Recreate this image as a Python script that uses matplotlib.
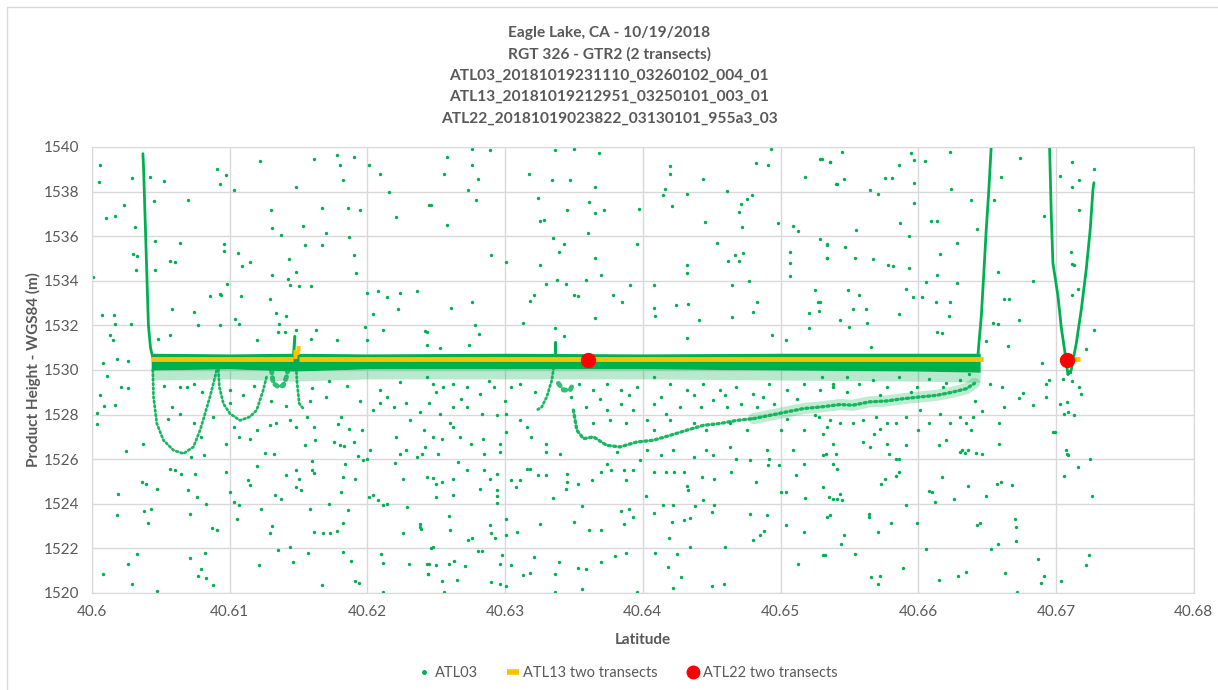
import numpy as np
import matplotlib.pyplot as plt
from matplotlib.lines import Line2D
from matplotlib.patches import Rectangle

plt.rcParams['font.family'] = ['Lato', 'DejaVu Sans']

GREEN = '#00B050'
YELLOW = '#FFC000'
RED = '#FF0000'
GRAY = '#595959'
GRID = '#D9D9D9'

title_lines = ["Eagle Lake, CA - 10/19/2018",
               "RGT 326 - GTR2 (2 transects)",
               "ATL03_20181019231110_03260102_004_01",
               "ATL13_20181019212951_03250101_003_01",
               "ATL22_20181019023822_03130101_955a3_03"]

x_ticks = [40.6, 40.61, 40.62, 40.63, 40.64, 40.65, 40.66, 40.67, 40.68]
y_ticks = [1520, 1522, 1524, 1526, 1528, 1530, 1532, 1534, 1536, 1538, 1540]

# ---- ATL03 dense features (lat, height) ----
left_cliff = [(40.6037, 1539.7), (40.60375, 1539.0), (40.6038, 1538.0), (40.6039, 1536.0),
              (40.6040, 1534.0), (40.6041, 1532.0), (40.60425, 1531.0), (40.6044, 1530.6)]
right_cliff = [(40.66433, 1530.6), (40.66441, 1531.2), (40.66458, 1532.4), (40.66475, 1534.2),
               (40.66494, 1536.3), (40.66513, 1538.1), (40.6653, 1540.0)]
v_left = [(40.66954, 1540.0), (40.66966, 1537.0), (40.66978, 1534.8), (40.67015, 1533.3),
          (40.67039, 1531.9), (40.6707, 1530.6), (40.67087, 1529.8)]
v_right = [(40.67087, 1529.8), (40.67111, 1530.0), (40.67148, 1531.2), (40.67184, 1532.7),
           (40.6722, 1534.5), (40.67249, 1536.3), (40.67269, 1538.1), (40.67276, 1538.4)]

surface_lat = [40.6043, 40.6100, 40.6147, 40.6200, 40.6300, 40.6400, 40.6500, 40.6600, 40.6645]
surface_top = [1530.75, 1530.72, 1530.75, 1530.72, 1530.75, 1530.72, 1530.75, 1530.75, 1530.75]
surface_bot = [1530.0, 1530.05, 1529.95, 1530.05, 1530.05, 1530.05, 1530.0, 1529.95, 1529.9]

basin1 = [(40.60442, 1530.0), (40.60447, 1528.8), (40.60471, 1527.6), (40.60519, 1526.85),
          (40.60592, 1526.4), (40.60664, 1526.25), (40.60737, 1526.55), (40.60785, 1527.3),
          (40.60821, 1528.04), (40.60857, 1528.8), (40.60882, 1529.4), (40.60906, 1530.0)]
basin2 = [(40.60918, 1530.0), (40.60925, 1529.24), (40.60954, 1528.5), (40.61002, 1528.04),
          (40.61075, 1527.74), (40.61147, 1527.9), (40.61196, 1528.2), (40.61244, 1529.1),
          (40.61268, 1529.7)]
blob_west = [(40.61304, 1530.0), (40.61316, 1529.4), (40.61353, 1529.25), (40.61389, 1529.3),
             (40.61413, 1529.7), (40.61432, 1530.3)]
spike_west = [(40.61461, 1530.3), (40.61473, 1531.5)]
drop_west = [(40.61481, 1530.3), (40.6149, 1529.4), (40.61505, 1528.5), (40.61534, 1528.27)]
spike_mid = [(40.63363, 1530.4), (40.63363, 1531.26)]
diag_mid = [(40.63358, 1530.3), (40.63339, 1529.54), (40.63303, 1528.8), (40.63266, 1528.34),
            (40.6323, 1528.2)]
blob_mid = [(40.63387, 1529.4), (40.63424, 1529.1), (40.63472, 1529.1), (40.63496, 1529.4)]
trend_west = [(40.63496, 1528.2), (40.63521, 1527.3), (40.63569, 1526.92), (40.63642, 1527.0),
              (40.63738, 1526.62), (40.63835, 1526.55), (40.63956, 1526.77), (40.64077, 1526.85),
              (40.64199, 1527.07), (40.6432, 1527.3), (40.64441, 1527.52), (40.64562, 1527.6),
              (40.64683, 1527.74), (40.64804, 1527.82)]
trend_east = [(40.64804, 1527.82), (40.64925, 1527.97), (40.65046, 1528.12),
              (40.65167, 1528.27), (40.65288, 1528.34), (40.65433, 1528.45), (40.65525, 1528.42),
              (40.65646, 1528.57), (40.65768, 1528.61), (40.65889, 1528.71), (40.6601, 1528.79),
              (40.66131, 1528.86), (40.66252, 1529.01), (40.66349, 1529.16), (40.66409, 1529.4)]

# ---- ATL03 scattered returns (lat, height) ----
noise_west = [
    (40.6006, 1539.18), (40.6005, 1538.43), (40.6010, 1536.83), (40.6017, 1536.9), (40.6023, 1537.38),
    (40.6029, 1538.6), (40.6031, 1536.4), (40.6030, 1535.2), (40.6033, 1535.1), (40.6032, 1534.5),
    (40.6001, 1534.17), (40.6007, 1532.45), (40.6016, 1532.48), (40.6017, 1532.08), (40.6013, 1531.55),
    (40.6015, 1531.33), (40.6028, 1532.08), (40.6018, 1530.5), (40.6026, 1530.4), (40.6008, 1530.3),
    (40.6011, 1529.73), (40.6006, 1528.86), (40.6004, 1528.07), (40.6004, 1527.56), (40.6009, 1528.4),
    (40.6021, 1529.24), (40.6026, 1529.2), (40.6017, 1528.43), (40.6025, 1526.37), (40.6037, 1526.7),
    (40.6036, 1524.98), (40.6039, 1524.9), (40.6047, 1524.68), (40.6019, 1524.45), (40.6018, 1523.5),
    (40.6038, 1523.66), (40.6043, 1523.75), (40.6041, 1523.14), (40.6033, 1521.76), (40.6026, 1521.29),
    (40.6008, 1520.87), (40.6029, 1520.39), (40.6047, 1520.09), (40.6042, 1538.65), (40.6045, 1537.56),
    (40.6052, 1538.47), (40.6070, 1537.64), (40.6046, 1535.77), (40.6064, 1535.7), (40.6057, 1534.9),
    (40.6060, 1534.84), (40.6046, 1534.47), (40.6058, 1532.75), (40.6074, 1532.6), (40.6077, 1532.0),
    (40.6057, 1531.58), (40.6048, 1531.4), (40.6086, 1533.32), (40.6093, 1533.42), (40.6094, 1533.35),
    (40.6098, 1533.84), (40.6093, 1532.0), (40.6093, 1538.36), (40.6097, 1538.73), (40.6091, 1539.03),
    (40.6103, 1538.09), (40.6096, 1535.66), (40.6096, 1535.34), (40.6106, 1535.25), (40.6109, 1534.65),
    (40.6115, 1534.84), (40.6108, 1533.32), (40.6104, 1532.3), (40.6107, 1532.08), (40.6122, 1539.36),
    (40.6130, 1537.16), (40.6131, 1536.38), (40.6137, 1536.04), (40.6143, 1534.98), (40.6131, 1534.25),
    (40.6142, 1534.1), (40.6148, 1534.4), (40.6144, 1533.8), (40.6129, 1533.2), (40.6134, 1532.56),
    (40.6141, 1532.42), (40.6136, 1532.08), (40.6135, 1531.72), (40.6140, 1531.72), (40.6120, 1531.33),
    (40.6148, 1531.78), (40.6148, 1538.2), (40.6153, 1536.46), (40.6155, 1535.59), (40.6150, 1533.75),
    (40.6159, 1533.75), (40.6159, 1531.4), (40.6163, 1531.8), (40.6161, 1539.48), (40.6178, 1539.63),
    (40.6180, 1539.2), (40.6190, 1539.55), (40.6182, 1538.5), (40.6167, 1537.28), (40.6186, 1537.28),
    (40.6195, 1537.19), (40.6170, 1536.14), (40.6167, 1535.62), (40.6187, 1535.96), (40.6190, 1535.14),
    (40.6192, 1534.35), (40.6178, 1531.36), (40.6198, 1531.93), (40.6200, 1531.33), (40.6201, 1539.18),
    (40.6209, 1538.8), (40.6216, 1538.0), (40.6221, 1536.86), (40.6245, 1537.38), (40.6200, 1533.45),
    (40.6208, 1533.52), (40.6214, 1533.27), (40.6224, 1533.47), (40.6236, 1533.55), (40.6222, 1532.72),
    (40.6204, 1532.53), (40.6211, 1531.78), (40.6242, 1531.75),
    (40.6064, 1529.24), (40.6069, 1529.24), (40.6074, 1529.39), (40.6058, 1528.34), (40.6064, 1528.04),
    (40.6074, 1527.6), (40.6079, 1527.0), (40.6072, 1526.1), (40.6081, 1526.17), (40.6057, 1525.58),
    (40.6060, 1525.5), (40.6065, 1525.35), (40.6075, 1525.35), (40.6070, 1524.63), (40.6076, 1524.3),
    (40.6083, 1524.0), (40.6071, 1523.55), (40.6087, 1522.93), (40.6091, 1522.82), (40.6071, 1521.58),
    (40.6082, 1521.79), (40.6079, 1521.09), (40.6077, 1520.75), (40.6083, 1520.67), (40.6088, 1520.34),
    (40.6097, 1526.7), (40.6097, 1525.43), (40.6100, 1524.53), (40.6103, 1524.08), (40.6107, 1523.93),
    (40.6105, 1523.33), (40.6103, 1527.44), (40.6107, 1527.0), (40.6115, 1526.9), (40.6120, 1527.3),
    (40.6129, 1527.52), (40.6134, 1527.6), (40.6126, 1526.28), (40.6132, 1526.25), (40.6113, 1525.05),
    (40.6115, 1524.83), (40.6120, 1525.68), (40.6123, 1523.77), (40.6129, 1522.67), (40.6131, 1523.0),
    (40.6133, 1524.38), (40.6137, 1524.2), (40.6141, 1525.3), (40.6148, 1525.53), (40.6148, 1524.75),
    (40.6152, 1524.63), (40.6150, 1525.1), (40.6135, 1521.94), (40.6144, 1522.06), (40.6146, 1521.39),
    (40.6121, 1521.24), (40.6157, 1521.79), (40.6161, 1525.4), (40.6160, 1525.9), (40.6160, 1525.5),
    (40.6158, 1523.77), (40.6161, 1522.73), (40.6168, 1522.7), (40.6173, 1522.7), (40.6178, 1522.77),
    (40.6172, 1524.0), (40.6181, 1524.53), (40.6186, 1523.7), (40.6182, 1523.14), (40.6188, 1521.45),
    (40.6191, 1520.53), (40.6194, 1520.45), (40.6167, 1520.34), (40.6182, 1521.84), (40.6191, 1525.13),
    (40.6182, 1525.2), (40.6184, 1525.8), (40.6176, 1526.77), (40.6180, 1526.62), (40.6183, 1526.58),
    (40.6156, 1527.9), (40.6161, 1527.44), (40.6162, 1526.85), (40.6155, 1526.62), (40.6148, 1527.44),
    (40.6144, 1527.74), (40.6141, 1528.4), (40.6179, 1527.56), (40.6181, 1527.9), (40.6187, 1527.37),
    (40.6190, 1526.77), (40.6193, 1526.13), (40.6196, 1527.3), (40.6197, 1525.95), (40.6200, 1526.0),
    (40.6202, 1526.4), (40.6204, 1528.2), (40.6209, 1528.5), (40.6209, 1529.1), (40.6214, 1528.8),
    (40.6219, 1528.34), (40.6224, 1529.46), (40.6228, 1528.5), (40.6231, 1527.74), (40.6221, 1527.0),
    (40.6220, 1525.83), (40.6224, 1526.25), (40.6228, 1526.4), (40.6236, 1526.1), (40.6240, 1526.25),
    (40.6226, 1525.13), (40.6243, 1525.2), (40.6250, 1524.9), (40.6204, 1524.38), (40.6208, 1524.15),
    (40.6211, 1523.93), (40.6214, 1524.0), (40.6201, 1524.3), (40.6226, 1522.67), (40.6229, 1523.85),
    (40.6238, 1523.1), (40.6239, 1522.88), (40.6246, 1522.03), (40.6210, 1521.76), (40.6211, 1521.35),
    (40.6230, 1521.29), (40.6243, 1521.31), (40.6244, 1520.87), (40.6211, 1520.05),
    (40.6052, 1529.3), (40.6080, 1529.0), (40.6100, 1529.1), (40.6118, 1529.3), (40.6160, 1529.2),
    (40.6170, 1528.8), (40.6185, 1529.3), (40.6195, 1528.6), (40.6172, 1529.5), (40.6130, 1528.6),
    (40.6100, 1528.5), (40.6088, 1527.9), (40.6055, 1527.8), (40.6110, 1528.9), (40.6158, 1528.6)]

noise_mid = [
    (40.6258, 1539.55), (40.6276, 1539.93), (40.6289, 1539.85), (40.6256, 1538.8), (40.6276, 1539.18),
    (40.6280, 1538.58), (40.6246, 1537.38), (40.6273, 1538.06), (40.6279, 1537.6), (40.6258, 1536.5),
    (40.6290, 1535.14), (40.6301, 1534.84), (40.6261, 1532.79), (40.6276, 1533.07), (40.6278, 1532.03),
    (40.6281, 1531.63), (40.6243, 1531.72), (40.6274, 1531.13), (40.6243, 1531.1), (40.6253, 1531.0),
    (40.6336, 1539.85), (40.6350, 1539.93), (40.6368, 1539.75), (40.6317, 1538.8), (40.6334, 1538.5),
    (40.6347, 1538.5), (40.6365, 1538.2), (40.6324, 1537.71), (40.6345, 1537.19), (40.6361, 1537.53),
    (40.6365, 1537.04), (40.6372, 1537.16), (40.6325, 1536.66), (40.6328, 1536.74), (40.6360, 1536.15),
    (40.6335, 1535.93), (40.6343, 1535.66), (40.6339, 1535.29), (40.6325, 1534.69), (40.6365, 1535.02),
    (40.6370, 1534.27), (40.6330, 1533.87), (40.6338, 1534.05), (40.6344, 1533.87), (40.6359, 1534.02),
    (40.6321, 1533.38), (40.6318, 1533.1), (40.6350, 1533.38), (40.6353, 1533.3), (40.6313, 1532.12),
    (40.6365, 1532.33), (40.6378, 1533.38), (40.6385, 1533.07), (40.6391, 1533.8), (40.6397, 1537.2),
    (40.6396, 1535.64), (40.6336, 1531.87), (40.6343, 1531.52), (40.6420, 1539.13), (40.6420, 1538.8),
    (40.6416, 1538.13), (40.6415, 1537.86), (40.6421, 1537.34), (40.6432, 1537.9), (40.6444, 1538.58),
    (40.6461, 1538.02), (40.6482, 1539.28), (40.6491, 1539.18), (40.6493, 1539.9), (40.6479, 1537.84),
    (40.6476, 1537.65), (40.6471, 1537.43), (40.6470, 1537.1), (40.6445, 1536.65), (40.6472, 1536.4),
    (40.6498, 1536.6), (40.6454, 1535.7), (40.6432, 1534.69), (40.6432, 1534.36), (40.6467, 1535.17),
    (40.6473, 1535.26), (40.6462, 1534.87), (40.6470, 1534.9), (40.6477, 1533.99), (40.6465, 1533.81),
    (40.6408, 1533.8), (40.6483, 1533.06), (40.6408, 1532.79), (40.6424, 1532.9), (40.6433, 1532.97),
    (40.6409, 1532.42), (40.6441, 1532.22), (40.6465, 1532.37), (40.6480, 1532.6), (40.6432, 1531.43),
    (40.6494, 1531.58), (40.6504, 1531.36), (40.6509, 1536.46), (40.6513, 1536.22), (40.6518, 1538.65),
    (40.6529, 1539.48), (40.6536, 1539.33), (40.6541, 1538.35), (40.6529, 1535.88), (40.6534, 1535.62),
    (40.6507, 1535.29), (40.6534, 1535.0), (40.6507, 1534.8), (40.6507, 1534.22), (40.6525, 1533.57),
    (40.6527, 1533.05), (40.6529, 1533.05), (40.6521, 1532.57), (40.6528, 1532.65), (40.6521, 1531.9),
    (40.6243, 1529.69), (40.6248, 1529.39), (40.6255, 1529.24), (40.6262, 1529.39), (40.6272, 1529.24),
    (40.6282, 1528.94), (40.6292, 1529.24), (40.6304, 1529.24), (40.6311, 1529.39), (40.6238, 1528.12),
    (40.6245, 1528.5), (40.6253, 1528.04), (40.6262, 1528.34), (40.6272, 1528.34), (40.6283, 1528.04),
    (40.6294, 1527.97), (40.6301, 1528.04), (40.6311, 1527.74), (40.6316, 1527.44), (40.6241, 1527.3),
    (40.6248, 1527.0), (40.6260, 1527.6), (40.6262, 1527.44), (40.6254, 1526.92), (40.6267, 1527.0),
    (40.6275, 1526.7), (40.6284, 1526.92), (40.6296, 1526.7), (40.6301, 1527.22), (40.6319, 1527.0),
    (40.6330, 1526.7), (40.6340, 1526.25), (40.6242, 1526.55), (40.6251, 1526.25), (40.6285, 1526.25),
    (40.6296, 1526.33), (40.6330, 1526.33), (40.6266, 1525.88), (40.6248, 1525.16), (40.6254, 1524.98),
    (40.6262, 1525.09), (40.6272, 1525.5), (40.6285, 1525.5), (40.6289, 1525.13), (40.6294, 1525.35),
    (40.6304, 1525.05), (40.6311, 1525.05), (40.6316, 1525.58), (40.6318, 1525.58), (40.6324, 1525.28),
    (40.6330, 1525.28), (40.6345, 1525.35), (40.6282, 1524.68), (40.6294, 1524.6), (40.6308, 1524.75),
    (40.6344, 1524.68), (40.6262, 1524.38), (40.6250, 1524.3), (40.6294, 1524.34), (40.6294, 1524.04),
    (40.6335, 1524.26), (40.6356, 1523.88), (40.6238, 1522.96), (40.6259, 1523.45), (40.6260, 1522.82),
    (40.6289, 1523.04), (40.6290, 1522.7), (40.6293, 1522.45), (40.6273, 1522.37), (40.6276, 1522.45),
    (40.6301, 1523.33), (40.6301, 1522.58), (40.6325, 1523.1), (40.6309, 1522.73), (40.6248, 1522.06),
    (40.6280, 1521.87), (40.6283, 1521.9), (40.6245, 1521.31), (40.6250, 1521.27), (40.6259, 1521.29),
    (40.6263, 1521.45), (40.6271, 1521.2), (40.6244, 1520.87), (40.6254, 1520.54), (40.6265, 1520.57),
    (40.6256, 1520.04), (40.6296, 1521.31), (40.6298, 1521.69), (40.6304, 1521.24), (40.6313, 1520.79),
    (40.6318, 1520.9), (40.6321, 1521.61), (40.6290, 1520.49), (40.6296, 1520.42), (40.6301, 1520.3),
    (40.6336, 1520.87), (40.6339, 1521.39), (40.6336, 1520.04), (40.6353, 1521.13), (40.6359, 1521.09),
    (40.6370, 1521.37), (40.6356, 1520.19), (40.6380, 1521.64), (40.6388, 1521.79), (40.6396, 1520.04),
    (40.6350, 1523.17), (40.6361, 1522.84), (40.6370, 1522.84), (40.6384, 1523.67), (40.6390, 1523.75),
    (40.6386, 1523.1), (40.6393, 1523.42), (40.6345, 1524.98), (40.6353, 1524.9), (40.6363, 1525.05),
    (40.6370, 1525.43), (40.6377, 1525.5), (40.6386, 1525.5), (40.6388, 1525.05), (40.6393, 1525.5),
    (40.6402, 1524.34), (40.6408, 1523.57), (40.6419, 1522.45), (40.6409, 1521.79), (40.6418, 1521.16),
    (40.6425, 1521.76), (40.6428, 1520.72), (40.6422, 1520.24), (40.6450, 1520.3), (40.6459, 1520.39),
    (40.6460, 1522.06), (40.6434, 1522.06), (40.6421, 1523.17), (40.6430, 1523.28), (40.6434, 1523.37),
    (40.6415, 1523.93), (40.6422, 1523.93), (40.6438, 1523.88), (40.6450, 1523.63), (40.6452, 1523.93),
    (40.6478, 1523.55), (40.6490, 1523.48), (40.6485, 1522.58), (40.6480, 1522.37), (40.6488, 1522.76),
    (40.6504, 1523.04), (40.6517, 1522.73), (40.6536, 1523.48), (40.6513, 1521.31), (40.6532, 1521.69),
    (40.6408, 1525.43), (40.6417, 1525.43), (40.6423, 1525.43), (40.6430, 1525.43), (40.6432, 1524.78),
    (40.6433, 1524.6), (40.6443, 1525.2), (40.6452, 1525.09), (40.6444, 1524.15), (40.6464, 1525.43),
    (40.6482, 1524.98), (40.6499, 1525.73), (40.6500, 1524.53), (40.6504, 1524.53), (40.6491, 1525.73),
    (40.6511, 1525.28), (40.6518, 1524.26), (40.6535, 1524.3), (40.6541, 1524.23), (40.6541, 1525.58),
    (40.6531, 1526.17), (40.6517, 1525.8), (40.6509, 1526.4), (40.6492, 1526.02), (40.6490, 1526.4),
    (40.6478, 1525.95), (40.6468, 1526.02), (40.6463, 1526.55), (40.6451, 1526.17), (40.6446, 1526.4),
    (40.6437, 1526.1), (40.6422, 1526.4), (40.6413, 1526.17), (40.6403, 1526.4), (40.6398, 1525.95),
    (40.6381, 1526.33), (40.6374, 1525.8),
    (40.6354, 1529.39), (40.6364, 1529.09), (40.6374, 1529.39), (40.6384, 1529.09), (40.6396, 1529.24),
    (40.6408, 1529.69), (40.6420, 1529.39), (40.6432, 1529.09), (40.6444, 1529.39), (40.6456, 1529.09),
    (40.6468, 1529.24), (40.6480, 1528.94), (40.6492, 1529.39), (40.6505, 1529.09), (40.6517, 1529.39),
    (40.6529, 1529.09), (40.6538, 1529.39), (40.6359, 1528.34), (40.6374, 1528.19), (40.6384, 1528.49),
    (40.6393, 1528.19), (40.6408, 1528.49), (40.6417, 1528.04), (40.6427, 1528.34), (40.6442, 1528.34),
    (40.6451, 1528.64), (40.6461, 1528.34), (40.6471, 1528.49), (40.6483, 1528.34), (40.6495, 1528.49),
    (40.6364, 1527.6), (40.6376, 1527.74), (40.6388, 1527.6), (40.6403, 1527.74), (40.6420, 1527.74),
    (40.6437, 1527.6), (40.6463, 1527.6), (40.6476, 1527.3), (40.6500, 1527.3), (40.6517, 1527.3),
    (40.6534, 1527.44), (40.6408, 1527.3), (40.6446, 1527.3),
    (40.6250, 1529.0), (40.6268, 1528.7), (40.6288, 1529.5), (40.6300, 1528.6), (40.6322, 1529.0),
    (40.6348, 1528.8), (40.6369, 1528.7), (40.6390, 1528.9), (40.6413, 1528.8), (40.6437, 1528.9),
    (40.6460, 1528.9), (40.6487, 1528.8), (40.6512, 1528.7), (40.6525, 1528.0), (40.6505, 1527.8)]

noise_east = [
    (40.6530, 1539.48), (40.6536, 1539.33), (40.6545, 1539.78), (40.6546, 1538.58), (40.6540, 1538.36),
    (40.6565, 1538.06), (40.6571, 1537.88), (40.6576, 1538.63), (40.6581, 1538.6), (40.6586, 1539.18),
    (40.6595, 1539.73), (40.6597, 1539.43), (40.6597, 1538.4), (40.6605, 1539.37), (40.6623, 1539.78),
    (40.6624, 1538.1), (40.6638, 1537.6), (40.6597, 1537.5), (40.6587, 1536.6), (40.6609, 1536.7),
    (40.6614, 1536.7), (40.6555, 1536.26), (40.6534, 1535.66), (40.6547, 1535.51), (40.6554, 1535.03),
    (40.6567, 1534.96), (40.6534, 1535.0), (40.6578, 1534.69), (40.6582, 1534.65), (40.6593, 1536.0),
    (40.6593, 1534.57), (40.6616, 1535.2), (40.6628, 1535.7), (40.6614, 1534.25), (40.6628, 1533.9),
    (40.6606, 1533.93), (40.6549, 1533.6), (40.6557, 1533.38), (40.6591, 1533.64), (40.6596, 1533.27),
    (40.6603, 1533.27), (40.6553, 1532.75), (40.6562, 1532.72), (40.6586, 1532.5), (40.6613, 1533.05),
    (40.6623, 1533.04), (40.6622, 1532.4), (40.6543, 1532.25), (40.6550, 1531.93), (40.6563, 1532.1),
    (40.6614, 1531.72), (40.6617, 1531.68), (40.6566, 1531.03), (40.6660, 1538.65), (40.6655, 1537.63),
    (40.6674, 1539.5), (40.6643, 1536.3), (40.6658, 1534.4), (40.6662, 1533.2), (40.6666, 1533.2),
    (40.6654, 1532.1), (40.6658, 1532.08), (40.6673, 1532.22), (40.6683, 1534.0), (40.6665, 1531.06),
    (40.6649, 1531.3), (40.6703, 1538.7), (40.6712, 1539.33), (40.6712, 1538.2), (40.6717, 1538.5),
    (40.6717, 1537.16), (40.6711, 1535.3), (40.6712, 1534.73), (40.6713, 1534.7), (40.6716, 1533.64),
    (40.6712, 1533.38), (40.6728, 1531.78), (40.6728, 1539.03), (40.6691, 1536.9), (40.6690, 1530.33),
    (40.6722, 1530.93),
    (40.6530, 1529.69), (40.6538, 1529.24), (40.6548, 1529.69), (40.6557, 1529.39), (40.6567, 1529.54),
    (40.6577, 1529.24), (40.6586, 1529.69), (40.6599, 1529.24), (40.6608, 1529.61), (40.6618, 1529.24),
    (40.6630, 1529.54), (40.6637, 1529.84), (40.6528, 1527.9), (40.6536, 1527.74), (40.6543, 1527.6),
    (40.6553, 1527.6), (40.6560, 1527.74), (40.6569, 1527.9), (40.6572, 1527.37), (40.6577, 1527.6),
    (40.6568, 1527.15), (40.6584, 1527.6), (40.6591, 1527.9), (40.6601, 1528.2), (40.6608, 1527.6),
    (40.6616, 1528.04), (40.6623, 1527.6), (40.6630, 1527.9), (40.6635, 1527.6), (40.6638, 1527.3),
    (40.6640, 1527.9), (40.6531, 1527.15), (40.6538, 1526.7), (40.6533, 1526.25), (40.6540, 1526.25),
    (40.6560, 1526.77), (40.6565, 1526.55), (40.6577, 1526.7), (40.6579, 1526.25), (40.6591, 1526.62),
    (40.6600, 1527.3), (40.6615, 1526.62), (40.6620, 1526.85), (40.6630, 1526.33), (40.6632, 1526.4),
    (40.6634, 1526.28), (40.6636, 1526.4), (40.6642, 1526.28), (40.6646, 1526.25), (40.6584, 1526.02),
    (40.6586, 1526.02), (40.6538, 1525.8), (40.6586, 1525.43), (40.6584, 1525.23), (40.6576, 1525.13),
    (40.6573, 1524.87), (40.6531, 1524.75), (40.6538, 1524.23), (40.6543, 1524.45), (40.6545, 1524.19),
    (40.6591, 1523.93), (40.6564, 1523.55), (40.6564, 1523.4), (40.6534, 1523.42), (40.6580, 1523.14),
    (40.6599, 1523.14), (40.6571, 1522.73), (40.6546, 1522.61), (40.6544, 1522.21), (40.6531, 1521.69),
    (40.6554, 1521.76), (40.6589, 1521.13), (40.6566, 1520.72), (40.6572, 1520.75), (40.6571, 1520.42),
    (40.6608, 1524.56), (40.6610, 1524.53), (40.6612, 1524.08), (40.6617, 1525.2), (40.6626, 1524.23),
    (40.6636, 1524.78), (40.6649, 1524.34), (40.6657, 1524.9), (40.6660, 1524.98), (40.6668, 1524.83),
    (40.6659, 1526.7), (40.6659, 1527.6), (40.6662, 1528.34), (40.6661, 1529.24), (40.6652, 1529.39),
    (40.6676, 1528.99), (40.6673, 1528.73), (40.6683, 1528.43), (40.6693, 1528.8), (40.6693, 1529.39),
    (40.6695, 1529.54), (40.6698, 1527.22), (40.6646, 1528.16), (40.6643, 1523.07), (40.6645, 1523.12),
    (40.6670, 1523.33), (40.6671, 1522.96), (40.6671, 1522.31), (40.6658, 1522.21), (40.6653, 1521.96),
    (40.6606, 1521.96), (40.6615, 1520.6), (40.6629, 1520.75), (40.6635, 1520.94), (40.6663, 1520.9),
    (40.6672, 1520.04), (40.6687, 1521.54), (40.6691, 1520.75), (40.6689, 1520.45), (40.6704, 1520.54),
    (40.6724, 1521.72), (40.6722, 1521.24), (40.6726, 1524.34), (40.6725, 1526.02), (40.6716, 1525.65),
    (40.6706, 1525.25), (40.6707, 1526.4), (40.6709, 1526.17), (40.6708, 1526.25), (40.6706, 1528.04),
    (40.6709, 1528.12), (40.6713, 1527.97), (40.6708, 1528.55), (40.6703, 1528.49), (40.6699, 1527.22),
    (40.6717, 1529.24), (40.6718, 1528.94), (40.6705, 1529.6), (40.6712, 1529.5), (40.6710, 1529.9),
    (40.6548, 1529.0), (40.6572, 1528.9), (40.6595, 1529.0), (40.6620, 1529.4), (40.6641, 1528.6)]

# ---- ATL13 (two transects) and ATL22 ----
atl13_segments = [[(40.6043, 1530.47), (40.6146, 1530.47)],
                  [(40.6146, 1530.62), (40.6149, 1530.62)],
                  [(40.6146, 1530.8), (40.6150, 1530.8)],
                  [(40.6148, 1531.0), (40.6151, 1531.0)],
                  [(40.6150, 1530.47), (40.6647, 1530.47)],
                  [(40.6703, 1530.47), (40.67175, 1530.47)]]
atl22_lat = [40.63605, 40.67083]
atl22_h = [1530.45, 1530.45]

fig = plt.figure(figsize=(12.18, 6.9), dpi=100)
ax = fig.add_axes([0.0755, 0.1406, 0.9045, 0.6464])

def line(pts, lw, alpha=1.0, dotted=False):
    xs, ys = zip(*pts)
    ls = (0, (0.6, 1.0)) if dotted else '-'
    ax.plot(xs, ys, color=GREEN, lw=lw, alpha=alpha, ls=ls,
            solid_capstyle='round', dash_capstyle='round', zorder=2)

ax.fill_between(surface_lat, surface_bot, surface_top, color=GREEN, lw=0, zorder=2)
ax.fill_between(surface_lat, [b - 0.45 for b in surface_bot], surface_bot,
                color=GREEN, alpha=0.28, lw=0, zorder=2)
for pts in [left_cliff, right_cliff, v_left, v_right]:
    line(pts, 2.0)
for pts in [basin1, basin2, drop_west, diag_mid]:
    line(pts, 2.0, 0.9, dotted=True)
for pts in [spike_west, spike_mid]:
    line(pts, 2.2)
for pts in [blob_west, blob_mid]:
    line(pts, 3.5, 0.8, dotted=True)
line(trend_west, 2.4, 0.9, dotted=True)
line(trend_east, 8, 0.25)
line(trend_east, 2.4, 0.9, dotted=True)

for pts in [noise_west, noise_mid, noise_east]:
    xs, ys = zip(*pts)
    ax.scatter(xs, ys, s=6, color=GREEN, linewidths=0, zorder=2)

for seg in atl13_segments:
    xs, ys = zip(*seg)
    ax.plot(xs, ys, color=YELLOW, lw=3.5, solid_capstyle='butt', zorder=3)

ax.plot(atl22_lat, atl22_h, 'o', color=RED, markersize=10, zorder=4)

ax.set_xlim(40.6, 40.68)
ax.set_ylim(1520, 1540)
ax.set_xticks(x_ticks)
ax.set_xticklabels([f'{t:g}' for t in x_ticks])
ax.set_yticks(y_ticks)
ax.grid(True, color=GRID, lw=1)
ax.set_axisbelow(True)
for s in ax.spines.values():
    s.set_color(GRID)
ax.tick_params(length=0, labelsize=11, labelcolor=GRAY, pad=9)
ax.set_xlabel('Latitude', fontsize=11, fontweight='bold', color=GRAY, labelpad=10)
ax.set_ylabel('Product Height - WGS84 (m)', fontsize=11, fontweight='bold', color=GRAY, labelpad=2)

for i, t in enumerate(title_lines):
    fig.text(0.5, 1 - (33 + 21.3 * i) / 690, t, ha='center', va='center',
             fontsize=11.2, fontweight='bold', color=GRAY)

handles = [Line2D([], [], ls='none', marker='o', markersize=2.5, color=GREEN),
           Line2D([], [], ls='none', marker='_', markersize=8, mew=4, color=YELLOW),
           Line2D([], [], ls='none', marker='o', markersize=9, color=RED)]
fig.legend(handles, ['ATL03', 'ATL13 two transects', 'ATL22 two transects'],
           loc='center', bbox_to_anchor=(628 / 1218, 1 - 673 / 690), ncol=3, frameon=False,
           fontsize=10.5, labelcolor=GRAY, handlelength=0.8, handletextpad=0.3, columnspacing=2.0)

fig.patches.append(Rectangle((7 / 1218, -0.01), 1.02, 1 - 7 / 690 + 0.01, transform=fig.transFigure,
                             fill=False, edgecolor=GRID, lw=1))

fig.savefig('out.png', dpi=100)
